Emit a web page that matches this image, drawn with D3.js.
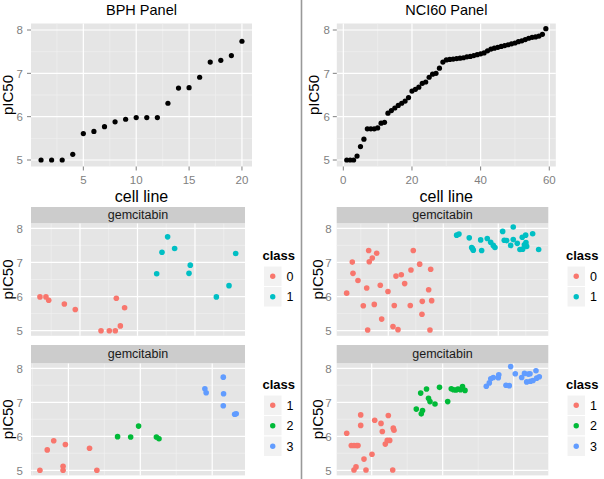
<!DOCTYPE html>
<html><head><meta charset="utf-8">
<script src="https://cdn.jsdelivr.net/npm/d3@7"></script>
<style>body{margin:0;background:#fff} svg{display:block} text{font-family:"Liberation Sans",Arial,Helvetica,sans-serif}</style>
</head><body><svg id="c" width="604" height="479"></svg>
<script>
// ---------- DATA ----------
const bphCell = [1,2,3,4,5,6,7,8,9,10,11,12,13,14,15,16,17,18,19,20];
const bphPIC50 = [5.0,5.0,5.0,5.13,5.61,5.66,5.77,5.88,5.94,5.98,5.98,5.98,6.31,6.66,6.67,6.91,7.26,7.30,7.41,7.74];

const nciCell = [1,2,3,4,5,6,7,8,9,10,11,12,13,14,15,16,17,18,19,20,21,22,23,24,25,26,27,28,29,30,
  31,32,33,34,35,36,37,38,39,40,41,42,43,44,45,46,47,48,49,50,51,52,53,54,55,56,57,58,59];
const nciPIC50 = [5.00,5.00,5.00,5.09,5.31,5.48,5.72,5.72,5.72,5.74,5.85,5.87,6.08,6.14,6.20,6.26,6.31,6.36,6.44,6.59,
  6.63,6.68,6.77,6.80,6.91,6.98,7.00,7.12,7.26,7.31,7.32,7.33,7.34,7.35,7.36,7.38,7.39,7.41,7.43,7.45,
  7.47,7.52,7.56,7.58,7.60,7.62,7.64,7.66,7.68,7.70,7.73,7.75,7.78,7.81,7.83,7.84,7.86,7.90,8.03];

// BPH, two classes
const bph2X = [1.52,2.04,2.28,3.64,4.59,6.83,7.55,8.07,8.16,8.51,8.88,11.67,12.13,12.62,13.23,14.48,14.59,16.86,17.96,18.54];
const bph2Y = [5.99,5.99,5.89,5.78,5.62,5.0,5.0,5.0,5.95,5.14,5.67,6.67,7.30,7.75,7.41,6.68,6.92,5.99,6.32,7.26];
const bph2Class = ["0","0","0","0","0","0","0","0","0","0","0","1","1","1","1","1","1","1","1","1"];

// BPH, three classes
const bph3X = [3.02,3.53,3.98,4.63,4.63,4.79,6.47,6.98,8.42,9.33,9.88,11.12,11.30,14.49,14.58,15.77,15.79,15.77,16.56,16.67];
const bph3Y = [5.0,5.60,5.87,5.12,5.0,5.76,5.65,5.0,5.99,5.98,6.30,5.98,5.93,7.40,7.28,7.74,7.25,6.90,6.65,6.66];
const bph3Class = ["1","1","1","1","1","1","1","1","2","2","2","2","2","3","3","3","3","3","3","3"];

// NCI60, two classes
const nci2X = [4.87,6.91,7.16,8.98,10.91,12.15,12.51,12.87,13.09,14.18,14.91,15.78,17.09,17.6,19.89,21.71,22.18,22.8,23.53,24.73,
  25.96,28.0,28.25,29.09,31.42,32.25,32.36,34.69,35.16,35.42,35.78,
  44.87,45.71,49.45,50.33,50.91,53.6,53.96,56.0,57.24,58.18,58.8,61.6,62.18,63.05,64.51,65.45,65.45,66.91,67.89,68.73,
  68.87,69.96,70.07,70.33,72.51,74.69,50.6,69.5];
const nci2Y = [6.10,7.01,6.68,6.47,5.73,6.25,5.02,7.35,7.02,7.13,5.77,7.27,6.33,5.34,6.15,5.12,5.74,6.60,5.03,6.64,
  6.38,5.74,6.78,7.35,6.95,5.48,5.86,6.20,5.02,6.80,5.88,
  7.80,7.83,7.72,7.44,7.36,7.66,7.35,7.70,7.59,7.50,7.44,7.91,7.65,7.64,7.50,8.04,7.67,7.56,7.38,7.74,
  7.39,7.80,7.58,7.47,7.84,7.38,7.41,7.52];
const nci2Class = [
  "0","0","0","0","0","0","0","0","0","0","0","0","0","0","0","0","0","0","0","0","0","0","0","0","0","0","0","0","0","0","0",
  "1","1","1","1","1","1","1","1","1","1","1","1","1","1","1","1","1","1","1","1","1","1","1","1","1","1","1","1"];

// NCI60, three classes
const nci3X = [12.96,14.25,15.01,15.77,16.14,15.01,15.58,16.90,16.90,17.83,18.39,20.08,20.85,22.62,22.99,23.83,24.39,24.68,25.07,25.92,26.08,26.28,
  32.56,33.80,33.97,34.31,35.44,36.0,36.42,37.83,39.10,41.41,42.42,43.04,43.75,44.31,45.01,45.58,46.28,
  52.28,53.13,53.55,54.25,55.66,55.80,57.83,58.76,59.15,60.45,62.25,63.04,63.66,64.11,64.59,64.73,65.44,66.28,66.48,67.21];
const nci3Y = [6.09,5.73,5.73,5.73,5.73,5.01,5.10,6.63,6.32,5.33,5.01,5.47,6.47,6.38,6.14,5.77,5.88,6.61,5.88,5.01,6.24,6.18,
  6.80,7.27,6.66,6.76,7.39,7.12,7.02,6.95,7.44,7.02,7.40,7.37,7.36,7.39,7.37,7.46,7.35,
  7.47,7.57,7.69,7.73,7.72,7.81,7.50,7.49,8.05,7.84,7.73,7.85,7.60,7.83,7.84,7.62,7.64,7.93,7.71,7.75];
const nci3Class = [
  "1","1","1","1","1","1","1","1","1","1","1","1","1","1","1","1","1","1","1","1","1","1",
  "2","2","2","2","2","2","2","2","2","2","2","2","2","2","2","2","2",
  "3","3","3","3","3","3","3","3","3","3","3","3","3","3","3","3","3","3","3","3"];

const yTickVals = [5,6,7,8];
const yMinorVals = [5.5,6.5,7.5];
const topTicksBPH = [5,10,15,20];
const topTicksNCI = [0,20,40,60];
const classes2 = ["0","1"];
const classes3 = ["1","2","3"];
const colors2 = ["#F8766D","#00BFC4"];
const colors3 = ["#F8766D","#00BA38","#619CFF"];
const stripLabel = "gemcitabin";

// ---------- DRAW ----------
const svg = d3.select("#c");
const BG = "#E5E5E5", TICKC = "#7F7F7F";

function panel(o){
  const x = d3.scaleLinear().domain(o.xd).range(o.xr);
  const y = d3.scaleLinear().domain([4.85,8.15]).range(o.yr);
  const g = svg.append("g");
  g.append("rect").attr("x",o.xr[0]).attr("y",o.yr[1]).attr("width",o.xr[1]-o.xr[0]).attr("height",o.yr[0]-o.yr[1]).attr("fill",BG);
  // minor grid
  g.selectAll(null).data(o.xminor).enter().append("line")
    .attr("x1",d=>x(d)).attr("x2",d=>x(d)).attr("y1",o.yr[0]).attr("y2",o.yr[1])
    .attr("stroke","#F2F2F2").attr("stroke-width",0.6);
  g.selectAll(null).data(yMinorVals).enter().append("line")
    .attr("y1",d=>y(d)).attr("y2",d=>y(d)).attr("x1",o.xr[0]).attr("x2",o.xr[1])
    .attr("stroke","#F2F2F2").attr("stroke-width",0.6);
  // major grid
  g.selectAll(null).data(o.xticks).enter().append("line")
    .attr("x1",d=>x(d)).attr("x2",d=>x(d)).attr("y1",o.yr[0]).attr("y2",o.yr[1])
    .attr("stroke","#fff").attr("stroke-width",1.2);
  g.selectAll(null).data(yTickVals).enter().append("line")
    .attr("y1",d=>y(d)).attr("y2",d=>y(d)).attr("x1",o.xr[0]).attr("x2",o.xr[1])
    .attr("stroke","#fff").attr("stroke-width",1.2);
  // y axis labels
  g.selectAll(null).data(yTickVals).enter().append("text")
    .attr("x",o.xr[0]-o.ylabOff).attr("y",d=>y(d)+4.2).attr("text-anchor","end")
    .attr("font-size",11.5).attr("fill",TICKC).text(d=>d);
  if(o.ticks){
    g.selectAll(null).data(yTickVals).enter().append("line")
      .attr("x1",o.xr[0]-4).attr("x2",o.xr[0]).attr("y1",d=>y(d)).attr("y2",d=>y(d))
      .attr("stroke",TICKC).attr("stroke-width",1);
    g.selectAll(null).data(o.xticks).enter().append("line")
      .attr("y1",o.yr[0]).attr("y2",o.yr[0]+4).attr("x1",d=>x(d)).attr("x2",d=>x(d))
      .attr("stroke",TICKC).attr("stroke-width",1);
    g.selectAll(null).data(o.xticks).enter().append("text")
      .attr("x",d=>x(d)).attr("y",o.yr[0]+17.5).attr("text-anchor","middle")
      .attr("font-size",11.5).attr("fill",TICKC).text(d=>d);
  }
  // y title
  g.append("text").attr("transform",`translate(${o.ytitleX},${(o.yr[0]+o.yr[1])/2}) rotate(-90)`)
    .attr("text-anchor","middle").attr("font-size",15).attr("fill","#000").text("pIC50");
  if(o.title){
    g.append("text").attr("x",(o.xr[0]+o.xr[1])/2).attr("y",15).attr("text-anchor","middle")
      .attr("font-size",14.5).attr("fill","#000").text(o.title);
    g.append("text").attr("x",(o.xr[0]+o.xr[1])/2).attr("y",201.5).attr("text-anchor","middle")
      .attr("font-size",16).attr("fill","#000").text("cell line");
  }
  if(o.strip){
    g.append("rect").attr("x",o.xr[0]).attr("y",o.strip[0]).attr("width",o.xr[1]-o.xr[0]).attr("height",o.strip[1]-o.strip[0]).attr("fill","#CCCCCC");
    g.append("text").attr("x",(o.xr[0]+o.xr[1])/2).attr("y",(o.strip[0]+o.strip[1])/2+4.3)
      .attr("text-anchor","middle").attr("font-size",12.5).attr("fill","#1A1A1A").text(stripLabel);
  }
  // points
  const color = o.classes ? d3.scaleOrdinal().domain(o.classes).range(o.colors) : null;
  g.selectAll(null).data(o.xs.map((v,i)=>i)).enter().append("circle")
    .attr("cx",i=>x(o.xs[i])).attr("cy",i=>y(o.ys[i])).attr("r",o.r)
    .attr("fill",i=>color?color(o.cls[i]):"#000");
  // legend
  if(o.legend){
    const L = o.legend;
    g.append("text").attr("x",L.x).attr("y",L.y).attr("font-size",13).attr("font-weight","bold").attr("fill","#000").text("class");
    const kh = 20.5;
    o.classes.forEach((c,i)=>{
      const ky = L.y+6+i*kh;
      g.append("rect").attr("x",L.x+1).attr("y",ky).attr("width",18.5).attr("height",kh)
        .attr("fill","#F2F2F2").attr("stroke","#fff").attr("stroke-width",1);
      g.append("circle").attr("cx",L.x+10.25).attr("cy",ky+kh/2).attr("r",2.7).attr("fill",color(c));
      g.append("text").attr("x",L.x+24).attr("y",ky+kh/2+4.5).attr("font-size",12.5).attr("fill","#000").text(c);
    });
  }
}

panel({xr:[31,252], yr:[166.5,23.5], xd:[0.05,20.95], xticks:topTicksBPH, xminor:[2.5,7.5,12.5,17.5],
  ticks:true, ylabOff:8, ytitleX:12.5, title:"BPH Panel", xs:bphCell, ys:bphPIC50, r:2.6});
panel({xr:[336.8,555.8], yr:[166.5,23.5], xd:[-1.9,61.9], xticks:topTicksNCI, xminor:[10,30,50],
  ticks:true, ylabOff:7, ytitleX:319, title:"NCI60 Panel", xs:nciCell, ys:nciPIC50, r:2.6});
panel({xr:[31,245], yr:[335.8,223.2], xd:[0.74,19.35], xticks:[5,10,15], xminor:[2.5,7.5,12.5,17.5],
  ylabOff:8, ytitleX:12.5, strip:[207,223.2], xs:bph2X, ys:bph2Y, cls:bph2Class, classes:classes2, colors:colors2, r:2.8,
  legend:{x:262.5,y:260}});
panel({xr:[336.7,548.3], yr:[335.8,223.2], xd:[1.24,78.2], xticks:[20,40,60], xminor:[10,30,50,70],
  ylabOff:5, ytitleX:323, strip:[207,223.2], xs:nci2X, ys:nci2Y, cls:nci2Class, classes:classes2, colors:colors2, r:2.8,
  legend:{x:566,y:260}});
panel({xr:[31,245], yr:[475.4,363.2], xd:[2.40,17.28], xticks:[5,10,15], xminor:[2.5,7.5,12.5],
  ylabOff:8, ytitleX:12.5, strip:[345,363.2], xs:bph3X, ys:bph3Y, cls:bph3Class, classes:classes3, colors:colors3, r:2.8,
  legend:{x:262.5,y:389}});
panel({xr:[336.7,548.3], yr:[475.4,363.2], xd:[10.14,69.75], xticks:[20,40,60], xminor:[30,50],
  ylabOff:5, ytitleX:323, strip:[345,363.2], xs:nci3X, ys:nci3Y, cls:nci3Class, classes:classes3, colors:colors3, r:2.8,
  legend:{x:566,y:389}});

// divider
svg.append("line").attr("x1",301.5).attr("x2",301.5).attr("y1",0).attr("y2",479).attr("stroke","#999").attr("stroke-width",1.6);
</script></body></html>
